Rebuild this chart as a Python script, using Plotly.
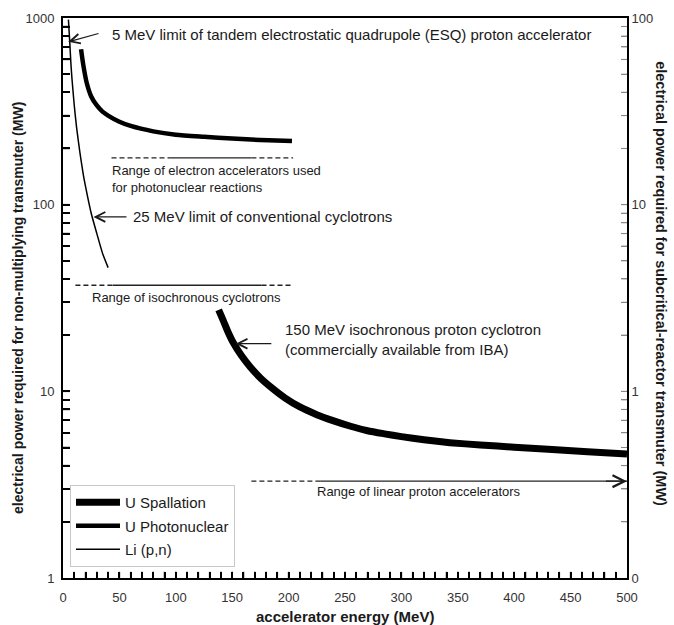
import math
import plotly.graph_objects as go

# ---- data ----
li_E = [4.8, 6, 7, 8, 10, 12, 15, 18, 20, 25, 30, 35, 40]
li_P = [980, 740, 570, 470, 340, 260, 190, 145, 125, 90, 70, 55, 46]

ph_E = [16, 18, 21, 25, 30, 35, 40, 50, 60, 80, 100, 125, 150, 175, 203]
ph_P = [680, 560, 450, 380, 340, 315, 300, 278, 264, 247, 237, 231, 226, 222, 219]

sp_E = [138, 142, 146, 151, 158, 166, 175, 185, 197, 210, 225, 240, 255, 270, 285, 300, 320, 343, 370, 400, 430, 465, 500]
sp_P = [27.3, 24.0, 21.0, 18.2, 15.6, 13.5, 11.8, 10.45, 9.2, 8.25, 7.5, 6.95, 6.5, 6.15, 5.92, 5.72, 5.50, 5.31, 5.16, 5.02, 4.89, 4.75, 4.62]

# range bars: (dashed start, solid start, solid end, dashed end, level)
elec_range = [43, 95, 167, 204, 178]
cyc_range = [11, 44, 176, 204, 37]
lin_range = [167, 228, 500, 3.3]

# ticks (every 10 MeV; labels every 50)
x_tick_vals = list(range(0, 501, 10))
x_tick_text = [str(v) if v % 50 == 0 else "" for v in x_tick_vals]
y_tick_vals = [m * 10 ** k for k in range(0, 3) for m in range(1, 10)] + [1000]
y_tick_text = ["1", "", "", "", "", "", "", "", "",
               "10", "", "", "", "", "", "", "", "",
               "100", "", "", "", "", "", "", "", "", "1000"]
y2_tick_vals = [m * 10 ** k for k in range(-1, 2) for m in range(1, 10)] + [100]
y2_tick_text = ["0", "", "", "", "", "", "", "", "",
                "1", "", "", "", "", "", "", "", "",
                "10", "", "", "", "", "", "", "", "", "100"]

FONT = "Liberation Sans, Arial, sans-serif"
INK = "#1a1a1a"

fig = go.Figure()

fig.add_trace(go.Scatter(x=sp_E, y=sp_P, mode="lines", name="U Spallation", legendgroup="a",
                         line=dict(color="black", width=7, shape="spline", smoothing=0.6)))
fig.add_trace(go.Scatter(x=ph_E, y=ph_P, mode="lines", name="U Photonuclear", legendgroup="b",
                         line=dict(color="black", width=4.5, shape="spline", smoothing=0.6)))
fig.add_trace(go.Scatter(x=li_E, y=li_P, mode="lines", name="Li (p,n)", legendgroup="c",
                         line=dict(color="black", width=1.5, shape="spline", smoothing=0.6)))

DASH = dict(color="#222", width=1.3, dash="5px,3px")
SOLID = dict(color="#222", width=1.3)

def range_bar(r):
    a, b, c, d, lev = r
    fig.add_trace(go.Scatter(x=[a, b], y=[lev, lev], mode="lines", showlegend=False, line=DASH))
    fig.add_trace(go.Scatter(x=[b, c], y=[lev, lev], mode="lines", showlegend=False, line=SOLID))
    fig.add_trace(go.Scatter(x=[c, d], y=[lev, lev], mode="lines", showlegend=False, line=DASH))

range_bar(elec_range)
range_bar(cyc_range)
a, b, c, lev = lin_range
fig.add_trace(go.Scatter(x=[a, b], y=[lev, lev], mode="lines", showlegend=False, line=DASH))
fig.add_trace(go.Scatter(x=[b, c], y=[lev, lev], mode="lines", showlegend=False, line=SOLID))
# invisible trace on right axis
fig.add_trace(go.Scatter(x=[0], y=[1], yaxis="y2", mode="markers", showlegend=False,
                         marker=dict(opacity=0), hoverinfo="skip"))

L = math.log10
ann = []
def txt(x, y, t, size=15, **kw):
    ann.append(dict(x=x, y=L(y), xref="x", yref="y", text=t, showarrow=False,
                    xanchor="left", yanchor="middle", align="left",
                    font=dict(family=FONT, size=size, color=INK), **kw))
def arrow(x0, y0, x1, y1, head=5, width=1.2, size=1.6):
    ann.append(dict(x=x1, y=L(y1), ax=x0, ay=L(y0), xref="x", yref="y",
                    axref="x", ayref="y", text="", showarrow=True,
                    arrowhead=head, arrowsize=size, arrowwidth=width, arrowcolor=INK))

txt(41.7, 811, "5 MeV limit of tandem electrostatic quadrupole (ESQ) proton accelerator")
arrow(32.8, 830, 4.6, 745)
txt(60.3, 86, "25 MeV limit of conventional cyclotrons")
arrow(57.6, 86, 27.0, 86)
txt(195, 19.0, "150 MeV isochronous proton cyclotron<br>(commercially available from IBA)")
arrow(186, 18.0, 153, 18.0)
txt(41.7, 138, "Range of electron accelerators used<br>for photonuclear reactions", size=13)
txt(24, 32, "Range of isochronous cyclotrons", size=13)
txt(223.4, 2.9, "Range of linear proton accelerators", size=13)
arrow(480, lev, 500, lev, width=1.3, size=1.8)

# axis titles
ann.append(dict(x=0.5, y=-0.068, xref="paper", yref="paper", text="<b>accelerator energy (MeV)</b>",
                showarrow=False, xanchor="center", yanchor="middle",
                font=dict(family=FONT, size=15, color=INK)))
ann.append(dict(x=-0.08, y=0.482, xref="paper", yref="paper",
                text="<b>electrical power required for non-multiplying transmuter (MW)</b>",
                showarrow=False, textangle=-90, xanchor="center", yanchor="middle",
                font=dict(family=FONT, size=14, color=INK)))
ann.append(dict(x=1.059, y=0.526, xref="paper", yref="paper",
                text="<b>electrical power required for subcritical-reactor transmuter (MW)</b>",
                showarrow=False, textangle=90, xanchor="center", yanchor="middle",
                font=dict(family=FONT, size=14.5, color=INK)))

# inward tick marks placed through the axes' own scales
shapes = []
for v in x_tick_vals[1:-1]:
    shapes.append(dict(type="line", xref="x", yref="paper", x0=v, x1=v, y0=0, y1=0.011,
                       layer="above", line=dict(color="black", width=1.5)))
for v in y_tick_vals[1:-1]:
    shapes.append(dict(type="line", xref="paper", yref="y", x0=0, x1=0.012, y0=v, y1=v,
                       layer="above", line=dict(color="black", width=1.5)))
    shapes.append(dict(type="line", xref="paper", yref="y", x0=0.99, x1=1, y0=v, y1=v,
                       layer="above", line=dict(color="#888", width=1)))

fig.update_layout(
    width=674, height=625,
    margin=dict(l=63, r=47, t=18, b=47),
    paper_bgcolor="white", plot_bgcolor="white",
    font=dict(family=FONT, color="#333", size=13),
    showlegend=True,
    legend=dict(x=0.0124, y=0.166, xanchor="left", yanchor="top",
                bgcolor="white", bordercolor="#c8c8c8", borderwidth=1,
                font=dict(family=FONT, size=15, color=INK),
                tracegroupgap=1, itemwidth=44),
    annotations=ann,
    shapes=shapes,
    xaxis=dict(range=[0, 500], tickmode="array", tickvals=x_tick_vals, ticktext=x_tick_text,
               ticks="inside", ticklen=6, tickwidth=1.5, tickcolor="black", ticklabelstandoff=6,
               showline=True, linecolor="black", linewidth=2, mirror=True,
               showgrid=False, zeroline=False),
    yaxis=dict(type="log", range=[0, 3], tickmode="array", tickvals=y_tick_vals,
               ticktext=y_tick_text, ticks="inside", ticklen=7, tickwidth=1.5, ticklabelstandoff=4,
               tickcolor="black", showline=True, linecolor="black", linewidth=2,
               showgrid=False, zeroline=False),
    yaxis2=dict(type="log", range=[-1, 2], overlaying="y", side="right", tickmode="array",
                tickvals=y2_tick_vals, ticktext=y2_tick_text, ticks="inside", ticklen=6,
                tickwidth=1, tickcolor="#888", showline=True, linecolor="black",
                linewidth=2, showgrid=False, zeroline=False),
)

fig.write_html("out.html")
